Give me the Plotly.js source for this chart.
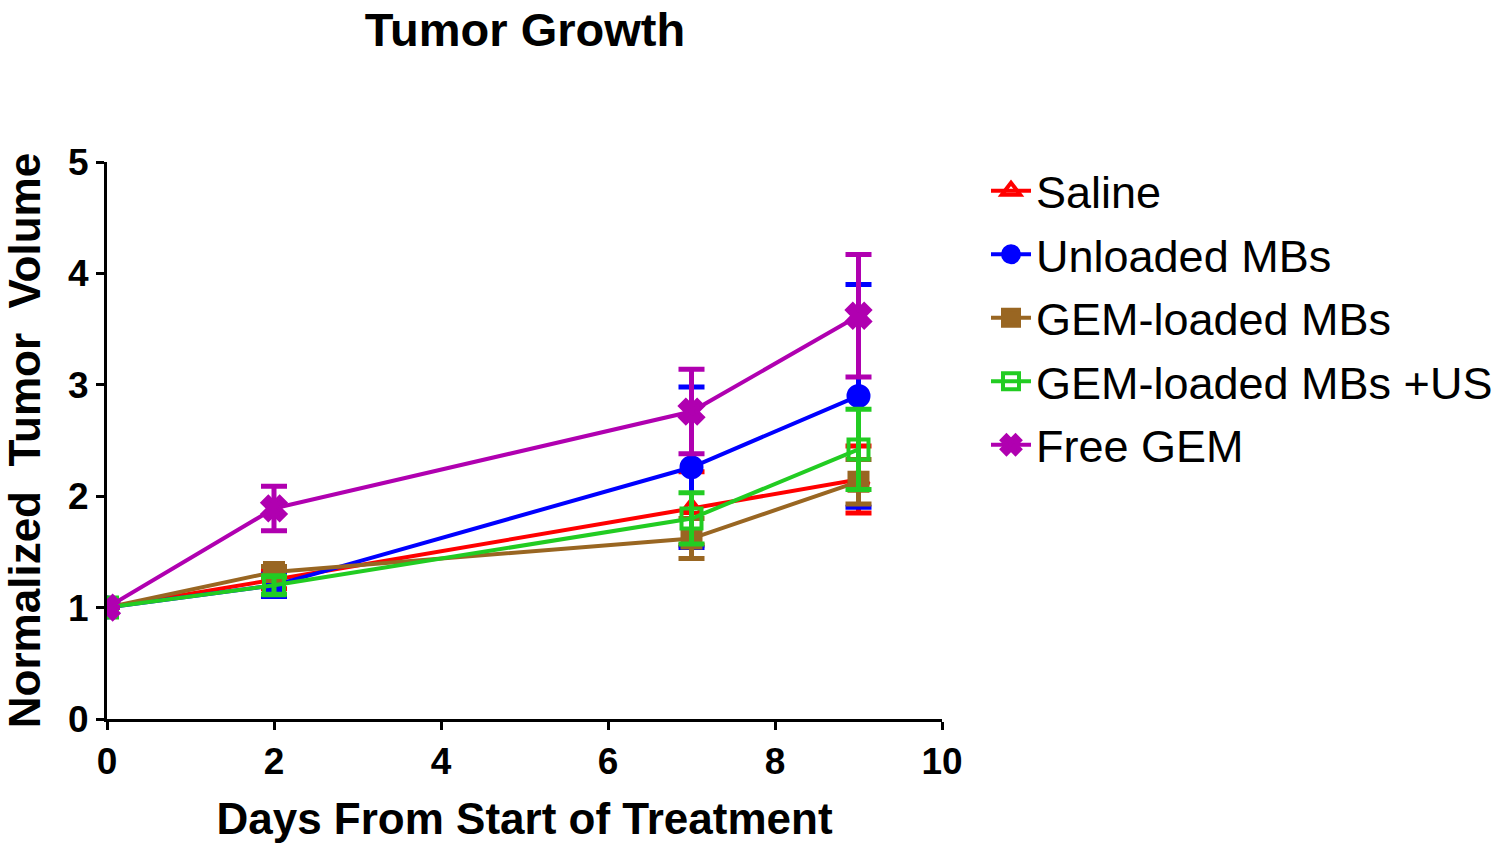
<!DOCTYPE html>
<html><head><meta charset="utf-8">
<script src="https://cdn.plot.ly/plotly-3.0.1.min.js"></script>
<style>body{margin:0;background:#fff}#chart{width:1500px;height:847px}</style>
</head><body><div id="chart"></div>
<script>
const days = [0, 2, 7, 9];
const seriesNames = ["Saline", "Unloaded MBs", "GEM-loaded MBs", "GEM-loaded MBs +US", "Free GEM"];
const saline = [1, 1.25, 1.89, 2.15];
const salineErr = [0, 0.08, 0.33, 0.3];
const unloaded = [1, 1.2, 2.26, 2.9];
const unloadedErr = [0, 0.1, 0.72, 1.0];
const gemLoaded = [1, 1.32, 1.62, 2.13];
const gemLoadedErr = [0, 0.05, 0.18, 0.2];
const gemUS = [1, 1.2, 1.8, 2.42];
const gemUSErr = [0, 0.08, 0.23, 0.36];
const freeGem = [1, 1.89, 2.76, 3.62];
const freeGemErr = [0, 0.2, 0.38, 0.55];

const colors = ["#ff0000", "#0000ff", "#996622", "#22cc22", "#b000b0"];
const symbols = ["triangle-up-open", "circle", "square", "square-open", "x"];
const sizes = [18, 20, 18, 20, 20];
const vals = [saline, unloaded, gemLoaded, gemUS, freeGem];
const errs = [salineErr, unloadedErr, gemLoadedErr, gemUSErr, freeGemErr];

const traces = seriesNames.map((n, i) => ({
  x: days, y: vals[i], name: n, type: "scatter", mode: "lines+markers",
  legendgroup: "g" + i,
  line: {color: colors[i], width: 4},
  marker: {symbol: symbols[i], size: sizes[i], color: colors[i], line: {color: colors[i], width: 4}},
  error_y: {type: "data", array: errs[i], visible: true, color: colors[i], thickness: 5, width: 13}
}));

const layout = {
  width: 1500, height: 847,
  margin: {l: 107, r: 558, t: 162, b: 128},
  paper_bgcolor: "#fff", plot_bgcolor: "#fff",
  font: {family: "Liberation Sans, Arial, sans-serif", color: "#000"},
  title: {text: "<b>Tumor Growth</b>", x: 525/1500, xanchor: "center", xref: "container", y: 0.984, yref: "container", yanchor: "top", font: {size: 47, color: "#000"}},
  xaxis: {range: [0, 10], tickvals: [0, 2, 4, 6, 8, 10], showgrid: false, zeroline: false,
    showline: true, linecolor: "#000", linewidth: 3, ticks: "outside", ticklen: 8, tickwidth: 3, tickcolor: "#000",
    tickfont: {size: 37, weight: "bold"},
    title: {text: "<b>Days From Start of Treatment</b>", font: {size: 44}, standoff: 22}},
  yaxis: {range: [0, 5], tickvals: [0, 1, 2, 3, 4, 5], showgrid: false, zeroline: false,
    showline: true, linecolor: "#000", linewidth: 3, ticks: "outside", ticklen: 8, tickwidth: 3, tickcolor: "#000",
    tickfont: {size: 37, weight: "bold"},
    title: {text: "<b>Normalized  Tumor  Volume</b>", font: {size: 44}, standoff: 26}},
  legend: {xref: "container", yref: "container", x: 986/1500, y: 1 - 155/847, xanchor: "left", yanchor: "top", font: {size: 45}, tracegroupgap: 2, itemwidth: 40, bgcolor: "rgba(0,0,0,0)"},
  showlegend: true
};
Plotly.newPlot("chart", traces, layout, {displayModeBar: false, staticPlot: true});
</script></body></html>
